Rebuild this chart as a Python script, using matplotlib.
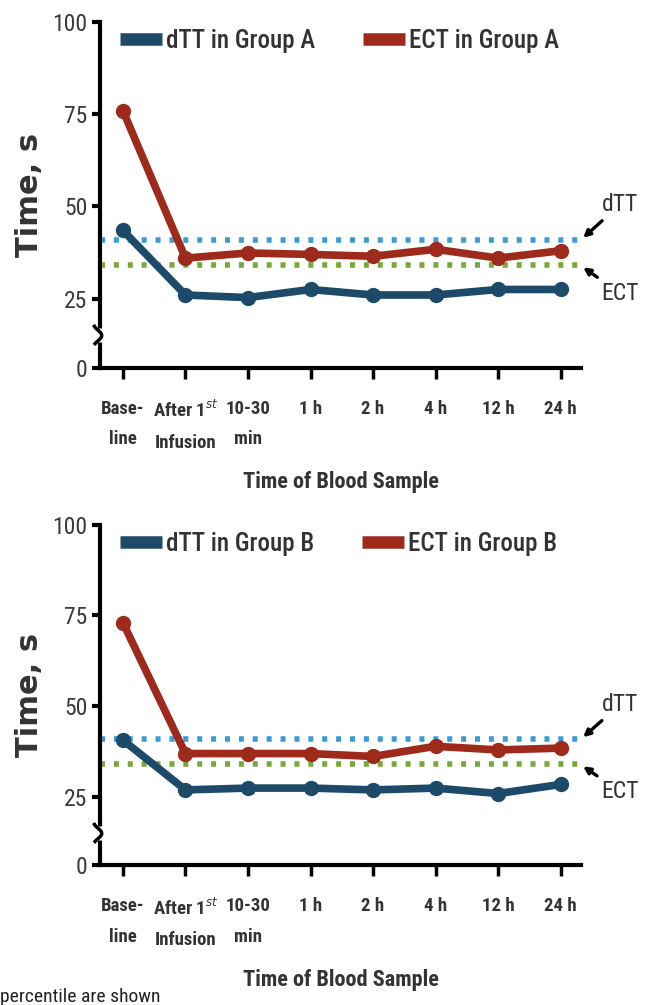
import matplotlib.pyplot as plt
import numpy as np

plt.rcParams['font.family'] = ['Roboto Condensed', 'Open Sans Condensed',
                               'Liberation Sans Narrow', 'DejaVu Sans']
plt.rcParams['font.stretch'] = 'condensed'

# data
categories = ['Base-\nline', 'After 1$^{st}$\nInfusion', '10-30\nmin', '1 h', '2 h', '4 h', '12 h', '24 h']
dtt_a = [43.5, 26, 25.3, 27.5, 26, 26, 27.5, 27.5]
ect_a = [76, 36, 37.4, 37, 36.5, 38.4, 36, 38]
dtt_b = [40.7, 27, 27.5, 27.5, 27, 27.5, 26, 28.5]
ect_b = [73, 37, 37, 37, 36.2, 39, 38, 38.5]
ref_dtt = 41
ref_ect = 34
yticks = [0, 25, 50, 75, 100]

c_dtt = '#1c4a68'
c_ect = '#9e2a1c'
c_ref_dtt = '#3b9bd6'
c_ref_ect = '#78a83a'


def fwd(y):
    y = np.asarray(y, dtype=float)
    return np.where(y < 25, y * 0.75, y - 6.25)


def inv(y):
    y = np.asarray(y, dtype=float)
    return np.where(y < 18.75, y / 0.75, y + 6.25)


def panel(ax, dtt, ect, group):
    x = np.arange(len(categories))
    ax.set_yscale('function', functions=(fwd, inv))
    ax.plot([-0.37, 7.33], [ref_dtt, ref_dtt], color=c_ref_dtt, lw=4,
            linestyle=(0, (0.9, 1.6)), zorder=1)
    ax.plot([-0.37, 7.33], [ref_ect, ref_ect], color=c_ref_ect, lw=4,
            linestyle=(0, (0.9, 1.6)), zorder=1)
    ax.plot(x, dtt, color=c_dtt, lw=5.5, marker='o', ms=10, zorder=3,
            label='dTT in Group ' + group)
    ax.plot(x, ect, color=c_ect, lw=5.5, marker='o', ms=10, zorder=3,
            label='ECT in Group ' + group)

    ax.set_xlim(-0.37, 7.33)
    ax.set_ylim(0, 100)
    ax.set_yticks(yticks)
    ax.set_yticklabels([str(t) for t in yticks])
    ax.set_xticks(x)
    ax.set_xticklabels(categories, fontsize=13.5, color='#333333', va='top',
                       linespacing=1.9, fontweight='bold')
    ax.tick_params(axis='y', labelsize=17, colors='#3a3a3a', length=6,
                   width=3, pad=3)
    ax.tick_params(axis='y', color='black')
    ax.tick_params(axis='x', length=8, width=2.5, color='black', pad=15)
    for s in ['top', 'right']:
        ax.spines[s].set_visible(False)
    for s in ['left', 'bottom']:
        ax.spines[s].set_linewidth(3)
    ax.set_ylabel('Time, s', family='DejaVu Sans', fontweight='bold',
                  fontsize=22, color='#333333', labelpad=6,
                  fontstretch='expanded')
    ax.set_xlabel('Time of Blood Sample', fontsize=16, color='#333333',
                  fontweight='bold', labelpad=14)

    # axis break
    ax.plot([0, 0], [0.075, 0.115], transform=ax.transAxes, color='white',
            lw=5, clip_on=False, zorder=5, solid_capstyle='butt')
    tt = np.linspace(0, 1, 30)
    ax.plot(-0.004 + 0.008 * np.sin(tt * np.pi * 1.6 - 0.8), 0.07 + 0.05 * tt,
            transform=ax.transAxes, color='black', lw=2.5, clip_on=False, zorder=6)

    leg = ax.legend(loc='upper left', bbox_to_anchor=(-0.005, 1.045), ncol=2,
                    frameon=False, fontsize=18, handlelength=1.7,
                    handletextpad=0.15, columnspacing=1.9)
    for h in leg.legend_handles:
        h.set_linewidth(9)
        h.set_marker('')
        h.set_solid_capstyle('butt')
    for t in leg.get_texts():
        t.set_color('#333333')
        t.set_fontweight('medium')

    ax.annotate('dTT', xy=(7.36, 41.5), xytext=(7.95, 50.5), fontsize=17,
                color='#333333', ha='center', va='center',
                arrowprops=dict(arrowstyle='-|>', color='black', lw=2.4,
                                mutation_scale=10, shrinkA=2, shrinkB=0),
                annotation_clip=False)
    ax.annotate('ECT', xy=(7.36, 33.5), xytext=(7.95, 26.5), fontsize=17,
                color='#333333', ha='center', va='center',
                arrowprops=dict(arrowstyle='-|>', color='black', lw=2.4,
                                mutation_scale=10, shrinkA=2, shrinkB=0),
                annotation_clip=False)


fig = plt.figure(figsize=(6.48, 10.05), dpi=100)
ax1 = fig.add_axes([0.154, 0.634, 0.743, 0.344])
ax2 = fig.add_axes([0.154, 0.139, 0.743, 0.339])
panel(ax1, dtt_a, ect_a, 'A')
panel(ax2, dtt_b, ect_b, 'B')

fig.text(0.0, 0.003, 'percentile are shown', fontsize=14, color='#222222',
         va='baseline', ha='left')

plt.savefig('out.png', dpi=100)
